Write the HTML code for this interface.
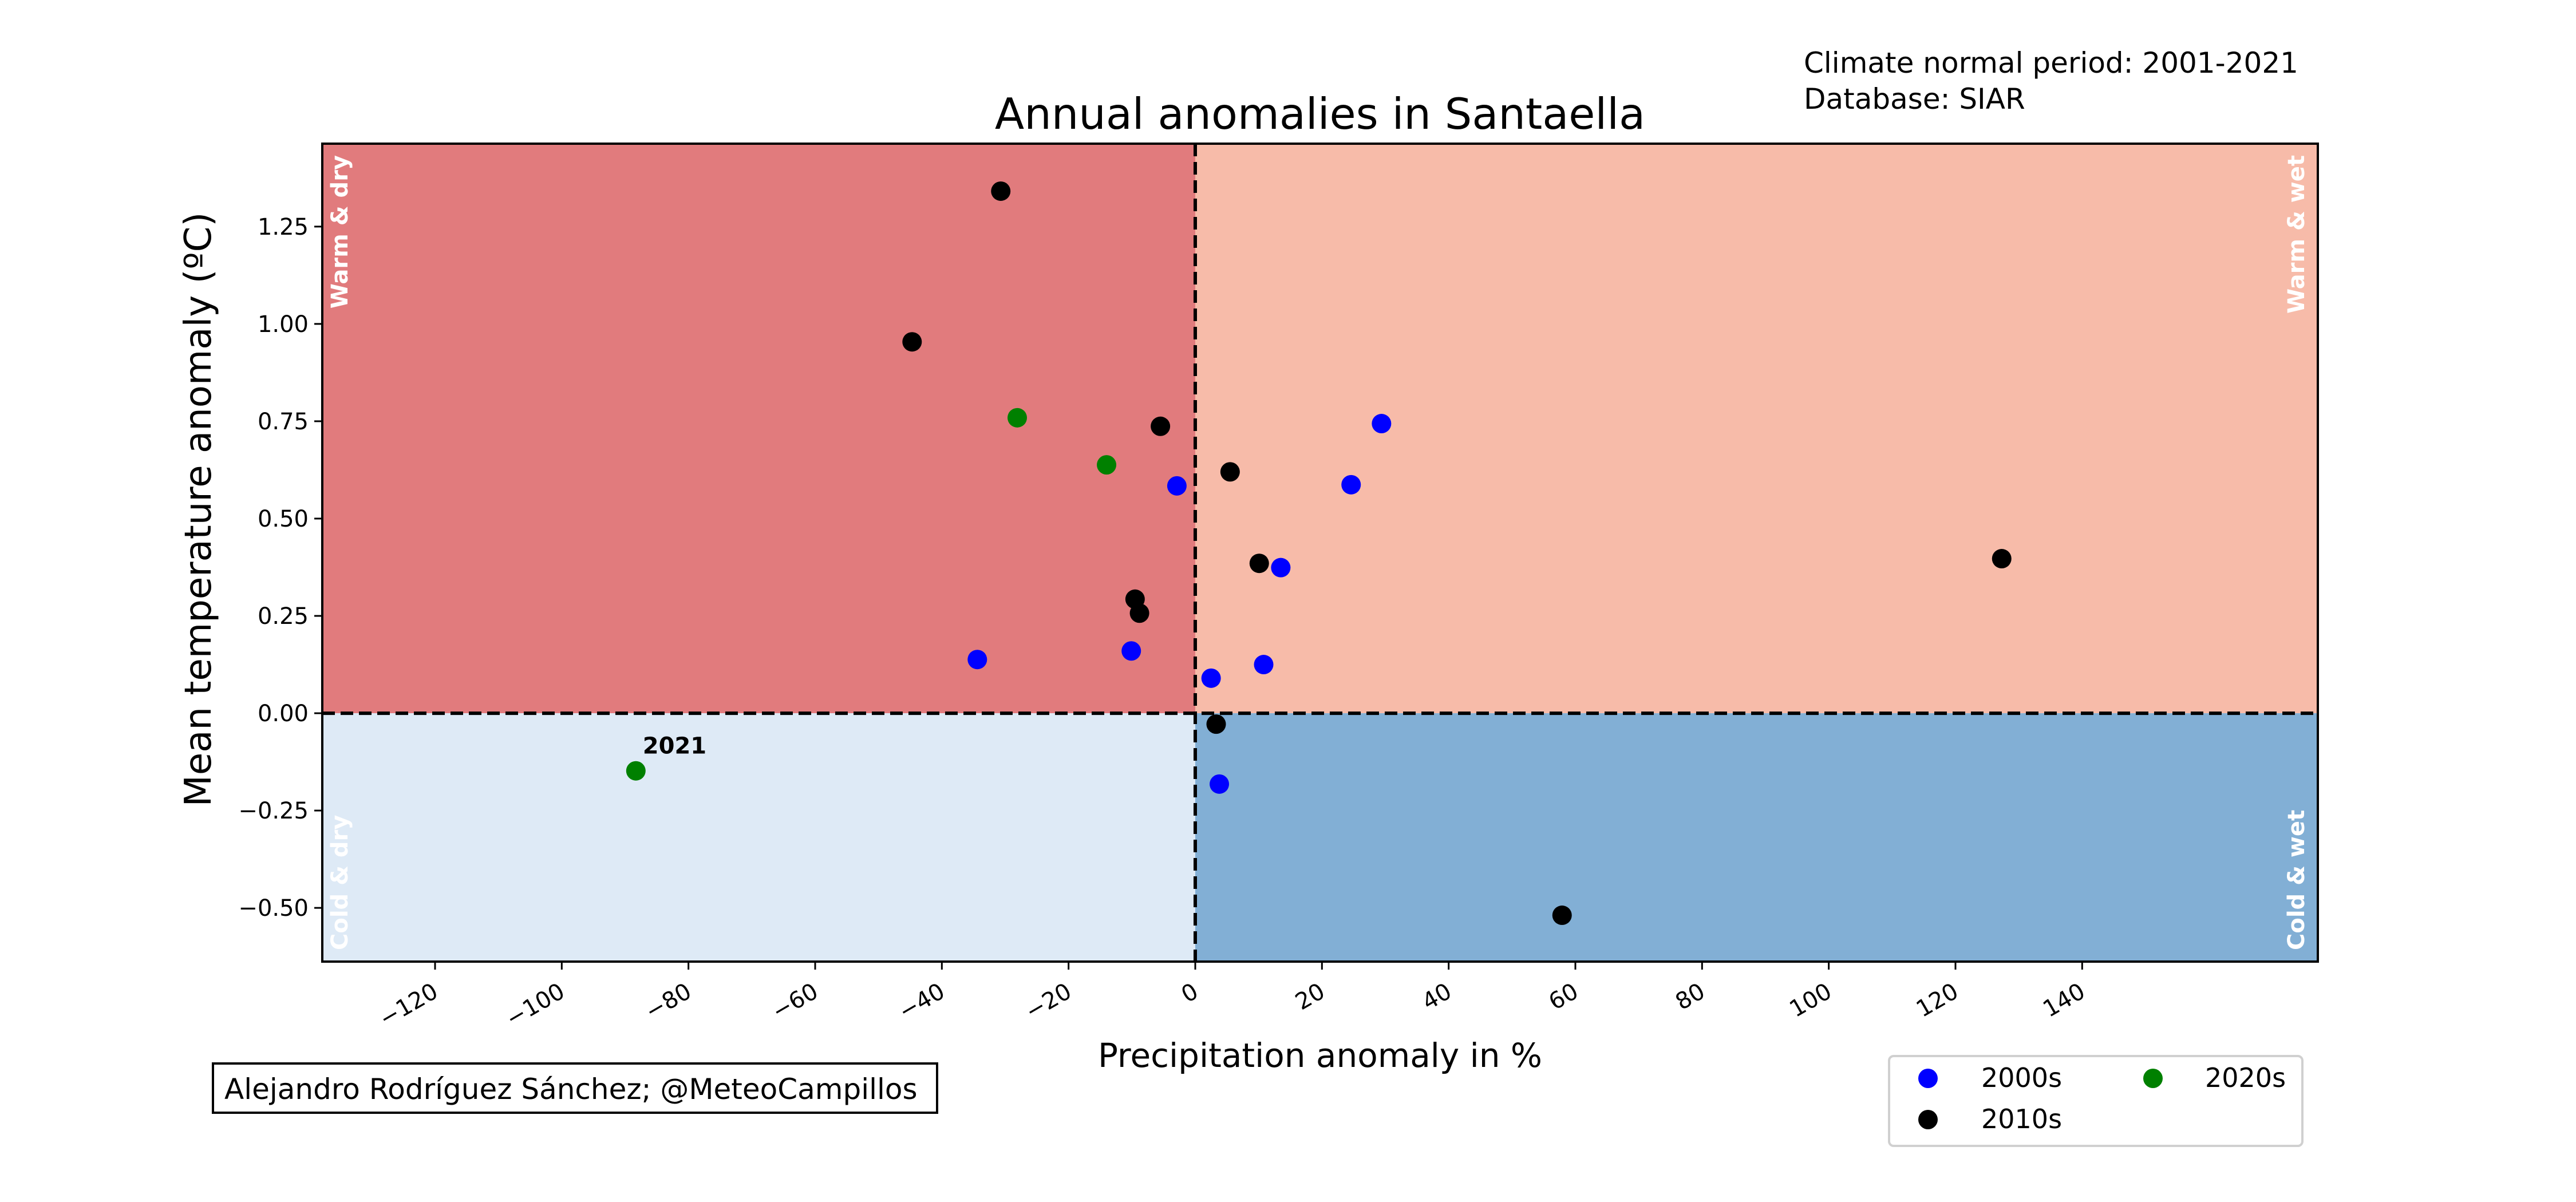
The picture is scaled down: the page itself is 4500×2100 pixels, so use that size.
<!DOCTYPE html>
<html><head><meta charset="utf-8"><style>
html,body{margin:0;padding:0;background:#fff;}
svg{display:block;font-family:"DejaVu Sans","Liberation Sans",sans-serif;}
</style></head><body>
<svg id="chart" width="4500" height="2100" viewBox="0 0 4500 2100" xmlns="http://www.w3.org/2000/svg">
<g id="quads"></g>
<g id="marks"></g>
<g id="axes"></g>
<text x="2306" y="225" font-size="75" text-anchor="middle">Annual anomalies in Santaella</text>
<text x="3151" y="127" font-size="50">Climate normal period: 2001-2021</text>
<text x="3151" y="190" font-size="50">Database: SIAR</text>
<text x="2306" y="1864" font-size="58" text-anchor="middle">Precipitation anomaly in %</text>
<text transform="translate(368,890) rotate(-90)" font-size="64" text-anchor="middle">Mean temperature anomaly (ºC)</text>
<g>
<rect x="372" y="1858" width="1265" height="86" fill="#fff" stroke="#000" stroke-width="4"/>
<text x="392" y="1920" font-size="50">Alejandro Rodríguez Sánchez; @MeteoCampillos</text>
</g>
<g>
<rect x="3300" y="1845" width="722" height="157" rx="8" fill="#fff" stroke="#d0d0d0" stroke-width="4"/>
<circle cx="3368" cy="1884" r="17" fill="#0000ff"/>
<text x="3461" y="1899" font-size="46">2000s</text>
<circle cx="3761" cy="1884" r="17" fill="#008000"/>
<text x="3852" y="1899" font-size="46">2020s</text>
<circle cx="3368" cy="1956" r="17" fill="#000"/>
<text x="3461" y="1971" font-size="46">2010s</text>
</g>
</svg>
<script>
const xTicks = [-120,-100,-80,-60,-40,-20,0,20,40,60,80,100,120,140];
const yTicks = [-0.5,-0.25,0,0.25,0.5,0.75,1.0,1.25];
const yTickLabels = ['\u22120.50','\u22120.25','0.00','0.25','0.50','0.75','1.00','1.25'];
const precip2000s = [-2.9,29.4,24.6,13.5,-34.4,-10.1,2.5,10.8,3.8];
const temp2000s   = [0.584,0.744,0.587,0.374,0.138,0.160,0.090,0.125,-0.182];
const precip2010s = [-30.7,-44.7,-5.5,5.5,10.1,127.3,-9.5,-8.8,3.3,57.9];
const temp2010s   = [1.341,0.954,0.737,0.620,0.385,0.397,0.293,0.257,-0.028,-0.519];
const precip2020s = [-28.1,-14.0,-88.3];
const temp2020s   = [0.759,0.638,-0.148];
const labelYear = '2021';

const L=563,R=4049,T=251,B=1680;
const xMin=-137.8,xMax=177.2,yMin=-0.638,yMax=1.463;
const X=v=>L+(v-xMin)/(xMax-xMin)*(R-L);
const Y=v=>B-(v-yMin)/(yMax-yMin)*(B-T);
const NS='http://www.w3.org/2000/svg';
function mk(tag,attrs,parent){const e=document.createElementNS(NS,tag);for(const k in attrs)e.setAttribute(k,attrs[k]);parent.appendChild(e);return e;}
const q=document.getElementById('quads'),m=document.getElementById('marks'),a=document.getElementById('axes');
const x0=X(0),y0=Y(0);
let r;
r=mk('rect',{x:L,y:T,width:x0-L,height:y0-T,fill:'#e17b7d'},q);


r=mk('rect',{x:x0,y:T,width:R-x0,height:y0-T,fill:'#f7bba9'},q);


r=mk('rect',{x:L,y:y0,width:x0-L,height:B-y0,fill:'#deeaf6'},q);


r=mk('rect',{x:x0,y:y0,width:R-x0,height:B-y0,fill:'#82afd5'},q);


const ql=[['Warm & dry',L+44,T+20,'end','warm-dry-label'],['Warm & wet',R-24,T+20,'end','warm-wet-label'],['Cold & dry',L+44,B-20,'start','cold-dry-label'],['Cold & wet',R-24,B-20,'start','cold-wet-label']];
ql.forEach(d=>{const t=mk('text',{transform:`translate(${d[1]},${d[2]}) rotate(-90)`,'font-size':40,'font-weight':'bold',fill:'#fff','text-anchor':d[3]},q);t.textContent=d[0];

});
let ln=mk('line',{x1:L,x2:R,y1:y0,y2:y0,stroke:'#000','stroke-width':6,'stroke-dasharray':'22,10'},a);


ln=mk('line',{x1:x0,x2:x0,y1:T,y2:B,stroke:'#000','stroke-width':6,'stroke-dasharray':'22,10'},a);


const fr=mk('rect',{x:L,y:T,width:R-L,height:B-T,fill:'none',stroke:'#000','stroke-width':4},a);


xTicks.forEach(v=>{const x=X(v);mk('line',{x1:x,x2:x,y1:B,y2:B+14,stroke:'#000','stroke-width':3},a);
const t=mk('text',{transform:`translate(${x+8},${B+60}) rotate(-30)`,'font-size':40,'text-anchor':'end'},a);t.textContent=v<0?'\u2212'+(-v):String(v);

});
yTicks.forEach((v,i)=>{const y=Y(v);mk('line',{x1:L-14,x2:L,y1:y,y2:y,stroke:'#000','stroke-width':3},a);
const t=mk('text',{x:L-24,y:y+14,'font-size':40,'text-anchor':'end'},a);t.textContent=yTickLabels[i];

});
function series(px,ty,col,name){px.forEach((p,i)=>{const c=mk('circle',{cx:X(p),cy:Y(ty[i]),r:17,fill:col},m);

});}
series(precip2000s,temp2000s,'#0000ff','point-2000s');
series(precip2010s,temp2010s,'#000000','point-2010s');
series(precip2020s,temp2020s,'#008000','point-2020s');
const li=precip2020s.length-1;
const lt=mk('text',{x:X(precip2020s[li])+12,y:Y(temp2020s[li])-30,'font-size':40,'font-weight':'bold'},m);
lt.textContent=labelYear;


</script>
</body></html>
